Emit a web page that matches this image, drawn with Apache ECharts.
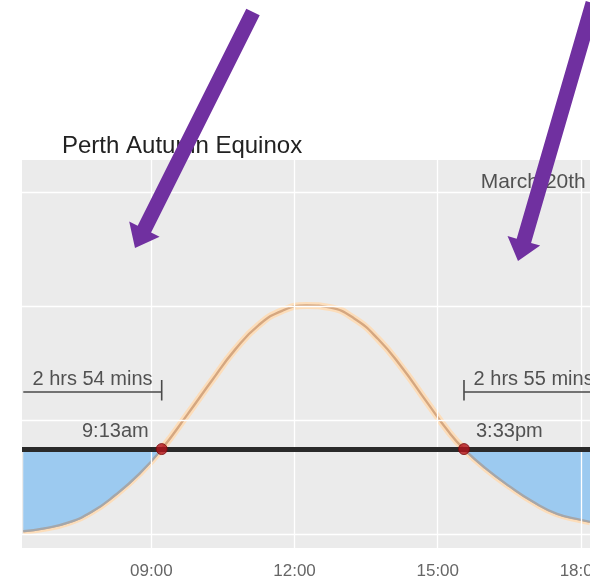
<!DOCTYPE html>
<html>
<head>
<meta charset="utf-8">
<script src="https://cdn.jsdelivr.net/npm/echarts@6/dist/echarts.min.js"></script>
<style>
  html, body { margin: 0; padding: 0; background: #ffffff; }
  #chart { width: 590px; height: 582px; }
</style>
</head>
<body>
<div id="chart"></div>
<script>
// ---- data ----
const chartTitle = 'Perth Autumn Equinox';
const dateLabel = 'March 20th';
const times = [6.3167, 6.75, 7.25, 7.75, 8.25, 8.75, 9.2167, 9.75, 10.25, 10.75, 11.25, 11.75, 12.25, 12.75, 13.25, 13.75, 14.25, 14.75, 15.25, 15.55, 16.0, 16.5, 17.0, 17.5, 18.0, 18.19];
const uvValues = [0.12, 0.22, 0.42, 0.80, 1.40, 2.14, 3.0, 4.20, 5.36, 6.48, 7.35, 7.86, 8.04, 7.96, 7.58, 6.86, 5.86, 4.70, 3.56, 3.0, 2.33, 1.70, 1.15, 0.73, 0.52, 0.45];
const threshold = 3;
const crossTimes = [9.2167, 15.55];
const crossLabels = ['9:13am', '3:33pm'];
const sunrise = 6.3167;
const sunset = 18.467;
const durationLabels = ['2 hrs 54 mins', '2 hrs 55 mins'];
const bracketLevel = 5.0;
const xTicks = [9, 12, 15, 18];
const xTickLabels = ['09:00', '12:00', '15:00', '18:00'];
const yGrid = [0, 4, 8, 12];

// ---- build ----
const FONT = '"Liberation Sans", Arial, Helvetica, sans-serif';
const curve = times.map((t, i) => [t, uvValues[i]]);
const leftLow = curve.filter(p => p[0] <= crossTimes[0]);
const rightLow = curve.filter(p => p[0] >= crossTimes[1]);

function arrowPoints(tail, tip, hw, headLen, headHw) {
  const dx = tip[0] - tail[0], dy = tip[1] - tail[1];
  const L = Math.hypot(dx, dy);
  const ux = dx / L, uy = dy / L;
  const px = -uy, py = ux;
  const hx = tip[0] - ux * headLen, hy = tip[1] - uy * headLen;
  return [
    [tail[0] + px * hw, tail[1] + py * hw],
    [hx + px * hw, hy + py * hw],
    [hx + px * headHw, hy + py * headHw],
    tip,
    [hx - px * headHw, hy - py * headHw],
    [hx - px * hw, hy - py * hw],
    [tail[0] - px * hw, tail[1] - py * hw]
  ];
}

const chart = echarts.init(document.getElementById('chart'), null, { renderer: 'canvas' });

const smoothVal = 0.5;
const bracketStyle = { color: '#4a4a4a', width: 1.6 };
function bracketSeries(points) {
  return { type: 'line', data: points, symbol: 'none', z: 5, clip: true, silent: true, lineStyle: bracketStyle };
}
const option = {
  backgroundColor: '#ffffff',
  animation: false,
  title: {
    text: chartTitle,
    left: 57, top: 129,
    textStyle: { fontFamily: FONT, fontSize: 24, fontWeight: 'normal', color: '#222222' }
  },
  grid: {
    left: 22, right: 0, top: 160, bottom: 34,
    outerBoundsMode: 'none', containLabel: false,
    show: true, backgroundColor: '#EBEBEB', borderWidth: 0
  },
  xAxis: {
    type: 'value', min: 6.29, max: 18.19,
    axisLine: { show: false },
    splitLine: { show: false },
    axisTick: { show: true, customValues: xTicks, length: 5, lineStyle: { color: '#8a8a8a', width: 1 } },
    axisLabel: {
      show: true, customValues: xTicks, margin: 15, hideOverlap: false,
      fontFamily: FONT, fontSize: 17, color: '#666666',
      formatter: v => xTickLabels[xTicks.indexOf(Math.round(v))] || ''
    }
  },
  yAxis: {
    type: 'value', min: -0.47, max: 13.14,
    axisLine: { show: false }, axisTick: { show: false }, axisLabel: { show: false }, splitLine: { show: false }
  },
  series: [
    { // grid lines
      type: 'line', data: [], silent: true, z: 1,
      markLine: {
        silent: true, symbol: 'none', label: { show: false },
        lineStyle: { color: '#ffffff', width: 1.3, type: 'solid' },
        data: yGrid.map(v => ({ yAxis: v })).concat(xTicks.map(v => ({ xAxis: v })))
      }
    },
    { // halo
      type: 'line', data: curve, smooth: smoothVal, symbol: 'none', z: 2,
      lineStyle: { color: '#FCDDBA', width: 7 }
    },
    { // core
      type: 'line', data: curve, smooth: smoothVal, symbol: 'none', z: 3,
      lineStyle: { color: '#D5A780', width: 2.4 }
    },
    { // left shaded
      type: 'line', data: leftLow, smooth: smoothVal, symbol: 'none', z: 4,
      lineStyle: { color: '#A3A7AC', width: 2.2 },
      areaStyle: { color: '#9CCAF0', opacity: 1, origin: threshold }
    },
    { // right shaded
      type: 'line', data: rightLow, smooth: smoothVal, symbol: 'none', z: 4,
      lineStyle: { color: '#A3A7AC', width: 2.2 },
      areaStyle: { color: '#9CCAF0', opacity: 1, origin: threshold }
    },
    { // threshold line
      type: 'line', data: [], z: 5,
      markLine: {
        silent: true, symbol: 'none', label: { show: false },
        data: [ { yAxis: threshold, lineStyle: { color: '#2a2a2a', width: 5, type: 'solid' } } ]
      }
    },
    bracketSeries([[sunrise, bracketLevel], [crossTimes[0], bracketLevel]]),
    bracketSeries([[crossTimes[0], bracketLevel - 0.3], [crossTimes[0], bracketLevel + 0.42]]),
    bracketSeries([[crossTimes[1], bracketLevel], [sunset, bracketLevel]]),
    bracketSeries([[crossTimes[1], bracketLevel - 0.3], [crossTimes[1], bracketLevel + 0.42]]),
    { // crossing points
      type: 'scatter', z: 6, symbolSize: 11,
      data: crossTimes.map(t => [t, threshold]),
      itemStyle: { color: '#B3141C', borderColor: '#7A0A0A', borderWidth: 1 }
    },
    { // crossing time labels
      type: 'scatter', z: 7, symbolSize: 0,
      data: [
        { value: [crossTimes[0], 3.6], label: { align: 'right', offset: [-13, 0] }, name: crossLabels[0] },
        { value: [crossTimes[1], 3.6], label: { align: 'left', offset: [12, 0] }, name: crossLabels[1] }
      ],
      label: { show: true, position: 'inside', formatter: p => p.name, fontFamily: FONT, fontSize: 20, color: '#2a2a2a', verticalAlign: 'middle' }
    },
    { // duration labels
      type: 'scatter', z: 7, symbolSize: 0, clip: false,
      data: [
        { value: [(sunrise + crossTimes[0]) / 2, 5.45], name: durationLabels[0] },
        { value: [(crossTimes[1] + sunset) / 2, 5.45], name: durationLabels[1] }
      ],
      label: { show: true, position: 'inside', align: 'center', verticalAlign: 'middle', formatter: p => p.name, fontFamily: FONT, fontSize: 20, color: '#2a2a2a' }
    },
    { // date label
      type: 'scatter', z: 7, symbolSize: 0, clip: false,
      data: [{ value: [15.9, 12.37], name: dateLabel }],
      label: { show: true, position: 'inside', align: 'left', verticalAlign: 'middle', formatter: p => p.name, fontFamily: FONT, fontSize: 21, color: '#2a2a2a' }
    }
  ],
  graphic: [
    { type: 'polygon', z: 100, shape: { points: arrowPoints([253, 12], [135, 248], 7.5, 21, 17) }, style: { fill: '#7030A0' } },
    { type: 'polygon', z: 100, shape: { points: arrowPoints([593, 3], [518, 261], 7.5, 21, 17) }, style: { fill: '#7030A0' } }
  ]
};
chart.setOption(option);
</script>
</body>
</html>
